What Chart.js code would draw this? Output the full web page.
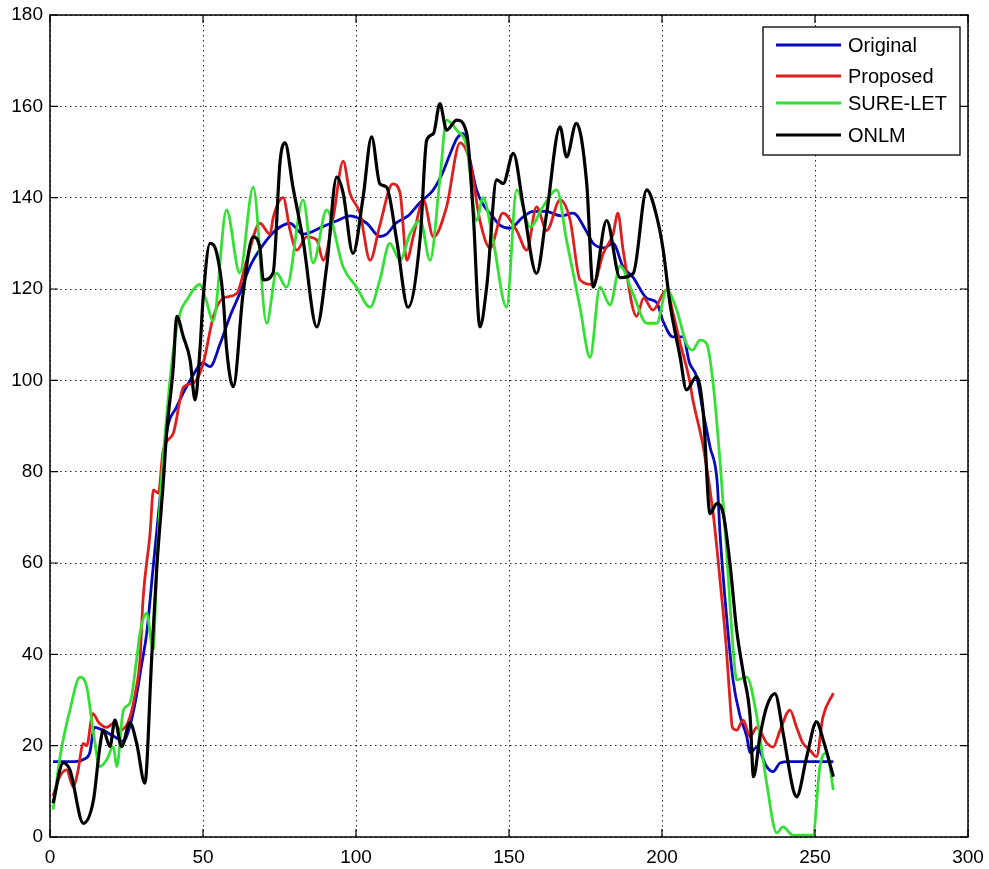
<!DOCTYPE html>
<html>
<head>
<meta charset="utf-8">
<script src="https://cdn.jsdelivr.net/npm/chart.js@4.4.1/dist/chart.umd.min.js"></script>
<style>
html,body{margin:0;padding:0;background:#fff;}
#wrap{width:989px;height:869px;position:relative;}
</style>
</head>
<body>
<div id="wrap"><canvas id="c" width="989" height="869"></canvas></div>
<script>
// ---- data ----
const seriesNames = ["Original", "Proposed", "SURE-LET", "ONLM"];
const seriesColors = ["#0808c0", "#e01e1e", "#35e035", "#000000"];

const xTicks = [0, 50, 100, 150, 200, 250, 300];
const yTicks = [0, 20, 40, 60, 80, 100, 120, 140, 160, 180];

const originalX = [1,8,11,13,14.5,17,21,24,26,28,30,31.6,33.7,35.9,38.1,41.4,45.8,50,52.3,55.6,58.8,62,65.4,70,74,78.4,82.7,89,94,98,103.5,107.8,110,113,117,121,125,128,131,133,135,137,139.4,142,143.8,147,150.3,154.6,158,162,167,171,175,177.5,181,184,187.3,190.5,195,198.3,200.3,203.6,206.9,209,211.3,213.5,215.7,218,219,221,223.2,225.5,227.7,228.8,231,234.2,236.3,238.6,241.8,250,256];
const originalY = [16.5,16.5,17,18.5,24,23.5,22,21,24,30,38,44.6,59,73.8,88.4,94.2,100,103.8,103,108,114,119,125,130,133,134.4,132,133.6,135,136,134.4,131.5,132,134.4,136,139,141.5,145,150,153,154,149,141.7,138,136.6,134,133.3,135.8,137,137,136,136.6,133,130,129,130,124.8,122.6,118,117,113,109.5,109.5,103.8,100.8,92.8,85.4,78,66,49,34.4,26.5,22,18.4,19.7,15.4,14.3,16.2,16.5,16.5,16.5];

const proposedX = [1,3,5.4,7.6,9,10.9,12,14,16,18.5,21,23,26,28,29.4,30.4,32.7,33.8,35.4,37,40.3,43.6,46.9,50.1,53.4,56.6,61,64.3,68.6,71.9,73,76.2,78.4,80.6,83.9,87.2,89.3,92.6,95.8,98,101.3,104.6,107.8,112,114.4,116.6,118.7,122,125.3,129.6,134,137.3,140.5,143.8,148,152.5,155.8,159,162.3,166.7,170,173.2,177.5,180.8,184,185.6,187.3,191.7,194,197,201.5,203.6,206,209,210,213.5,216.7,219,221,222.2,223,224.4,226.5,228.8,231,234.2,236.3,238.6,241.8,244,246,248.4,250.5,252.6,256];
const proposedY = [9,13,14.7,11,14,20.5,20,27,25,24,25,23.4,26,32,38.8,52,66.5,76,75.3,84.7,88.4,98.5,99.4,103.8,114,118,119,126.3,134.4,132,135.8,140,133,128.5,131.4,130.7,126.3,135.8,148,141,136.6,126.3,134,143,141,126.3,131.4,139.5,131.4,138,152,147.6,135,129,136.6,132.8,128.5,138,132.8,139.5,135,122,121,127.8,132,136.6,128.5,114,118,115.4,119.8,114.7,108,100,96,85.4,71,56,41.6,30,24,23.4,25.6,22,24,20.6,19.7,23.4,27.8,24,20.6,19,17.6,26.3,31.5];

const sureletX = [1,3.3,6.5,9.8,12,14.2,16.3,18.5,20.7,21.8,24,26.1,28.3,29.4,31.6,33.7,34.9,36,38.1,40.3,42.5,44.7,49,51,53.3,57.7,62,66.4,70.8,74,77.3,82.7,86,90.4,95.8,100.2,104.6,107.8,111,114.4,117.6,121,124.2,127.4,129.6,132.9,136.2,139.4,141.5,144.8,149.2,152.5,156.9,161.1,165.6,168.8,173.2,176.5,179.7,183,186.3,190.5,195,198.3,201.5,204.8,208,210,212.4,214.6,216.7,219,221,223.2,224.4,227.7,231,234.2,237.5,239.5,242.8,249.3,251.6,253.8,256];
const sureletY = [6,17.6,27.8,35,32.9,22.8,15.4,16.9,19.8,15.4,27.8,29.3,38.8,44.6,49,41,59,73.8,92,106.6,114.7,117.6,121,117.6,113,137.3,123.5,142.3,112.5,123.5,120.4,139.5,125.7,137.3,124.8,120.4,116,122,130,126.3,132,135,126.3,143.9,157,154.8,151,135,140,130.7,116,141.7,133.6,138,141.7,130.7,116,105,120.4,116.5,125,119,112.5,112.5,119.8,115.4,108,106.6,108.8,108,99.4,81.9,63.6,41.6,34.4,35,26.3,11.8,0.9,2.2,0.4,0.4,15.4,18.4,10.3];

const onlmX = [1,4.3,6.5,10.9,14.2,16.3,17.4,19.6,21.2,23.4,26.1,28.3,31,33.2,34.9,37,38.1,40.3,41.4,43.6,45.8,47.4,49,50,52.3,54.5,56.6,57.7,59.9,63.1,66.4,68.6,69.7,72.9,75.2,76.8,79.4,82.7,87.2,90.4,93.7,95.8,99,102.3,105.1,107.8,110,113.3,117,121,123.1,125.3,127.4,129.6,132.9,136.2,138.3,140.5,142.7,146,148.1,151.4,154.7,159,162.3,166.7,168.8,172,175.4,177.5,181.9,186.3,190.6,195,198.3,200.4,202.6,205.9,208,211.3,213.5,215.7,217.9,220,222.2,224.4,226.6,228.8,229.9,232,234.2,236.9,239.6,242.9,244,247.3,250.5,252.7,256];
const onlmY = [7.4,16.2,14.7,3,8.1,19.8,23.4,19.8,25.6,19.8,25,20.6,11.8,38.8,59,77.5,88.4,103,114,109.5,104.4,95.7,106.6,117.6,130,127.8,118,107,98.6,119,131.4,129,122,123.5,148,152,142.3,130.7,111.7,124.8,144.5,141,127.8,140,153.3,143,142.3,130.7,116,131.4,152.6,154,160.6,154.8,157,154,136.6,111.7,120.4,143.9,143.1,149.7,138,123.4,136.6,155.5,148.9,156.3,143.1,120.4,135,122.5,123.4,141.7,135.8,128.5,116.8,105.2,97.9,100.8,92.8,70.8,73,70.8,59.9,45.3,35.8,26.3,13.2,22,28.5,31.4,22.7,10.3,8.8,17.6,25.2,21.2,13.2];

const seriesX = [originalX, proposedX, sureletX, onlmX];
const seriesY = [originalY, proposedY, sureletY, onlmY];

const FONT = "'Liberation Sans', Arial, sans-serif";

const datasets = seriesNames.map((name, i) => ({
  label: name,
  data: seriesX[i].map((x, k) => ({x: x, y: seriesY[i][k]})),
  borderColor: seriesColors[i],
  backgroundColor: seriesColors[i],
  borderWidth: i === 3 ? 3.2 : 2.8,
  pointRadius: 0,
  cubicInterpolationMode: 'monotone',
  fill: false,
  order: 4 - i
}));

const framePlugin = {
  id: 'frame',
  afterDraw(chart) {
    const ctx = chart.ctx, a = chart.chartArea;
    const xs = chart.scales.x, ys = chart.scales.y;
    ctx.save();
    ctx.strokeStyle = '#000';
    ctx.lineWidth = 1.5;
    ctx.strokeRect(a.left, a.top, a.right - a.left, a.bottom - a.top);
    const L = 8;
    ctx.lineWidth = 1.2;
    ctx.beginPath();
    xTicks.forEach(v => {
      const px = xs.getPixelForValue(v);
      ctx.moveTo(px, a.bottom); ctx.lineTo(px, a.bottom - L);
      ctx.moveTo(px, a.top); ctx.lineTo(px, a.top + L);
    });
    yTicks.forEach(v => {
      const py = ys.getPixelForValue(v);
      ctx.moveTo(a.left, py); ctx.lineTo(a.left + L, py);
      ctx.moveTo(a.right, py); ctx.lineTo(a.right - L, py);
    });
    ctx.stroke();

    // legend box
    const bw = 197, bh = 128;
    const bx = a.right - 8 - bw, by = a.top + 12;
    ctx.fillStyle = '#fff';
    ctx.fillRect(bx, by, bw, bh);
    ctx.lineWidth = 1.3;
    ctx.strokeStyle = '#000';
    ctx.strokeRect(bx, by, bw, bh);
    ctx.font = "20px " + FONT;
    ctx.textBaseline = 'middle';
    ctx.textAlign = 'left';
    const rows = [18, 49, 76, 108];
    seriesNames.forEach((name, i) => {
      const yy = by + rows[i];
      ctx.strokeStyle = seriesColors[i];
      ctx.lineWidth = i === 3 ? 3.2 : 2.8;
      ctx.beginPath();
      ctx.moveTo(bx + 13, yy); ctx.lineTo(bx + 78, yy);
      ctx.stroke();
      ctx.fillStyle = '#000';
      ctx.fillText(name, bx + 85, yy + 1);
    });
    ctx.restore();
  }
};

new Chart(document.getElementById('c'), {
  type: 'line',
  data: { datasets: datasets },
  options: {
    responsive: false,
    animation: false,
    events: [],
    layout: { padding: { top: 15, right: 21, left: 0, bottom: 0 } },
    plugins: { legend: { display: false }, tooltip: { enabled: false } },
    scales: {
      x: {
        type: 'linear', min: 0, max: 300,
        afterFit(s) { s.height = 32; s.paddingLeft = 0; s.paddingRight = 0; },
        afterBuildTicks(s) { s.ticks = xTicks.map(v => ({value: v})); },
        ticks: { color: '#000', font: { family: FONT, size: 19 }, padding: 9, maxRotation: 0, autoSkip: false },
        grid: { color: 'rgba(0,0,0,0.85)', lineWidth: 1, drawTicks: false },
        border: { display: false, dash: [1.5, 3.5] }
      },
      y: {
        type: 'linear', min: 0, max: 180,
        afterFit(s) { s.width = 50; s.paddingTop = 0; s.paddingBottom = 0; },
        afterBuildTicks(s) { s.ticks = yTicks.map(v => ({value: v})); },
        ticks: { color: '#000', font: { family: FONT, size: 19 }, padding: 7, autoSkip: false },
        grid: { color: 'rgba(0,0,0,0.85)', lineWidth: 1, drawTicks: false },
        border: { display: false, dash: [1.5, 3.5] }
      }
    }
  },
  plugins: [framePlugin]
});
</script>
</body>
</html>
